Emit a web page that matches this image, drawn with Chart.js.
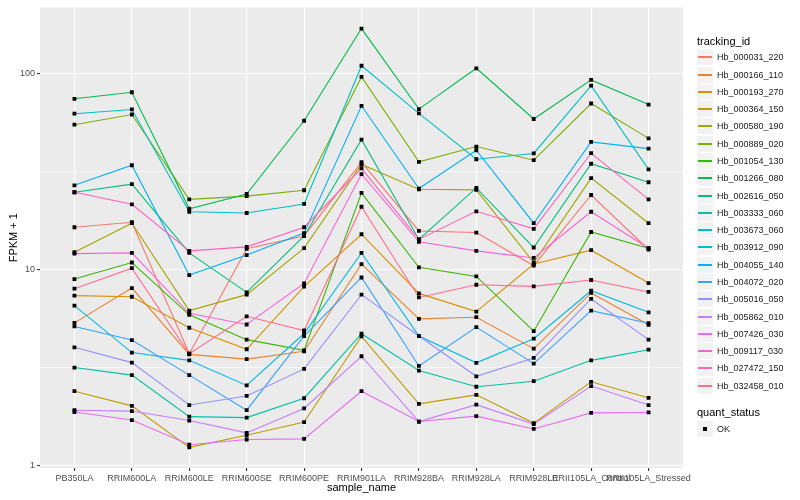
<!DOCTYPE html>
<html>
<head>
<meta charset="utf-8">
<script src="https://cdn.jsdelivr.net/npm/chart.js@4.4.1/dist/chart.umd.min.js"></script>
<style>
  body { margin: 0; background: #fff; font-family: "Liberation Sans", Arial, sans-serif; }
  #wrap { position: relative; width: 800px; height: 500px; }
  #wrap canvas { position: absolute; left: 0; top: 0; }
  .lg-title { position: absolute; left: 697px; font-size: 11px; color: #000; line-height: 14px; white-space: nowrap; }
  .lg-item { position: absolute; left: 697px; width: 100px; height: 16px; }
  .lg-key { position: absolute; left: 0; top: 0; width: 16px; height: 16px; background: #F2F2F2; }
  .lg-line { position: absolute; left: 1px; top: 7px; width: 14px; height: 2px; }
  .lg-dot { position: absolute; left: 6px; top: 6px; width: 4px; height: 4px; background: #000; }
  .lg-text { position: absolute; left: 20px; top: 0; line-height: 16px; font-size: 9px; color: #1a1a1a; white-space: nowrap; }
</style>
</head>
<body>
<div id="wrap">
  <canvas id="chart" width="800" height="500"></canvas>
</div>
<script>
// ─── データ ──────────────────────────────────────────
const categories = [
  'PB350LA', 'RRIM600LA', 'RRIM600LE', 'RRIM600SE', 'RRIM600PE', 'RRIM901LA',
  'RRIM928BA', 'RRIM928LA', 'RRIM928LE', 'RRII105LA_Control', 'RRII105LA_Stressed',
];

const trackingIds = [
  'Hb_000031_220', 'Hb_000166_110', 'Hb_000193_270', 'Hb_000364_150', 'Hb_000580_190',
  'Hb_000889_020', 'Hb_001054_130', 'Hb_001266_080', 'Hb_002616_050', 'Hb_003333_060',
  'Hb_003673_060', 'Hb_003912_090', 'Hb_004055_140', 'Hb_004072_020', 'Hb_005016_050',
  'Hb_005862_010', 'Hb_007426_030', 'Hb_009117_030', 'Hb_027472_150', 'Hb_032458_010',
];

// FPKM + 1, one value per sample
const hb_000031_220 = [16.5, 17.5, 3.73, 12.8, 14.9, 35.5, 15.8, 15.5, 10.5, 24.1, 12.7];
const hb_000166_110 = [5.36, 8.07, 3.70, 3.50, 3.84, 10.7, 5.62, 5.73, 3.96, 7.62, 5.24];
const hb_000193_270 = [7.38, 7.29, 5.06, 3.93, 8.20, 15.2, 7.58, 6.12, 10.7, 12.6, 8.56];
const hb_000364_150 = [2.40, 2.02, 1.24, 1.43, 1.67, 4.57, 2.07, 2.30, 1.65, 2.68, 2.22];
const hb_000580_190 = [12.3, 17.3, 6.19, 7.47, 12.9, 34.5, 25.8, 25.6, 10.9, 29.4, 17.3];
const hb_000889_020 = [55.1, 62.1, 22.9, 23.8, 25.5, 96.6, 35.6, 42.6, 36.3, 70.7, 46.9];
const hb_001054_130 = [8.97, 10.9, 5.89, 4.40, 3.88, 24.7, 10.3, 9.25, 4.86, 15.6, 12.9];
const hb_001266_080 = [74.7, 80.7, 20.5, 24.4, 57.7, 170.6, 66.2, 106.9, 58.9, 93.3, 69.8];
const hb_002616_050 = [24.9, 27.4, 12.2, 7.67, 14.9, 46.2, 14.3, 26.2, 13.0, 34.8, 28.0];
const hb_003333_060 = [3.17, 2.90, 1.78, 1.76, 2.21, 4.72, 3.06, 2.53, 2.70, 3.45, 3.91];
const hb_003673_060 = [62.7, 65.9, 19.8, 19.5, 21.7, 110.2, 62.9, 36.7, 39.3, 87.2, 32.6];
const hb_003912_090 = [6.57, 3.78, 3.45, 2.57, 4.73, 12.2, 4.59, 3.35, 4.45, 7.82, 6.07];
const hb_004055_140 = [27.0, 34.2, 9.40, 11.9, 15.4, 68.8, 26.0, 40.8, 17.3, 45.0, 41.6];
const hb_004072_020 = [5.14, 4.38, 2.90, 1.92, 4.59, 9.14, 3.23, 5.10, 3.32, 6.19, 5.34];
const hb_005016_050 = [4.02, 3.36, 2.04, 2.27, 3.12, 7.47, 4.59, 2.86, 3.55, 7.10, 4.40];
const hb_005862_010 = [1.92, 1.90, 1.70, 1.47, 1.96, 3.62, 1.68, 2.05, 1.63, 2.55, 2.04];
const hb_007426_030 = [1.88, 1.71, 1.28, 1.36, 1.37, 2.40, 1.68, 1.79, 1.54, 1.86, 1.87];
const hb_009117_030 = [12.1, 12.2, 6.00, 5.26, 8.52, 30.8, 13.9, 12.5, 11.5, 19.8, 12.9];
const hb_027472_150 = [24.9, 21.6, 12.5, 13.1, 16.5, 33.0, 14.3, 19.9, 16.2, 39.4, 22.9];
const hb_032458_010 = [8.01, 10.2, 3.73, 5.79, 4.90, 21.0, 7.23, 8.39, 8.23, 8.87, 7.71];

const seriesValues = [
  hb_000031_220, hb_000166_110, hb_000193_270, hb_000364_150, hb_000580_190,
  hb_000889_020, hb_001054_130, hb_001266_080, hb_002616_050, hb_003333_060,
  hb_003673_060, hb_003912_090, hb_004055_140, hb_004072_020, hb_005016_050,
  hb_005862_010, hb_007426_030, hb_009117_030, hb_027472_150, hb_032458_010,
];

const yTicks = [1, 3.1623, 10, 31.623, 100];
const yTickLabels = ['1', '', '10', '', '100'];
const quantStatus = ['OK'];

// ─── スタイル ────────────────────────────────────────
const HUE = [
  '#F8766D', '#EA8331', '#D89000', '#C09B00', '#A3A500',
  '#7CAE00', '#39B600', '#00BB4E', '#00BF7D', '#00C1A3',
  '#00BFC4', '#00BAE0', '#00B0F6', '#35A2FF', '#9590FF',
  '#C77CFF', '#E76BF3', '#FA62DB', '#FF62BC', '#FF6C91',
];
const FONT = 'Liberation Sans';

const panelBg = {
  id: 'panelBg',
  beforeDraw(chart) {
    const { ctx, chartArea: a } = chart;
    ctx.save();
    ctx.fillStyle = '#EBEBEB';
    ctx.fillRect(a.left, a.top, a.width, a.height);
    ctx.restore();
  },
};

const toXY = vals => vals.map((v, j) => ({ x: j, y: v }));

const lineSets = trackingIds.map((id, i) => ({
  label: id,
  data: toXY(seriesValues[i]),
  borderColor: HUE[i],
  borderWidth: 1.1,
  pointRadius: 0,
  tension: 0,
  order: 100 - i,
}));

const pointSets = trackingIds.map((id, i) => ({
  label: id + ' pt',
  data: toXY(seriesValues[i]),
  showLine: false,
  pointStyle: 'rect',
  pointRadius: 2.7,
  pointBorderWidth: 0,
  pointBackgroundColor: '#000',
  order: 0,
}));

new Chart(document.getElementById('chart').getContext('2d'), {
  type: 'line',
  data: { datasets: [...lineSets, ...pointSets] },
  options: {
    responsive: false,
    animation: false,
    layout: { padding: { top: 5, right: 117, bottom: 0, left: 0 } },
    plugins: { legend: { display: false }, tooltip: { enabled: false } },
    scales: {
      x: {
        type: 'linear', min: -0.6, max: 10.6,
        afterBuildTicks: s => { s.ticks = categories.map((_, i) => ({ value: i })); },
        afterFit: s => { s.height = 32; },
        ticks: {
          callback: (v, i) => categories[i],
          autoSkip: false, maxRotation: 0, minRotation: 0,
          color: '#4D4D4D', font: { family: FONT, size: 9 }, padding: 2,
        },
        grid: { color: '#FFFFFF', lineWidth: 1.1, tickColor: '#333333', tickLength: 3 },
        border: { display: false },
        title: {
          display: true, text: 'sample_name', color: '#000',
          font: { family: FONT, size: 11 }, padding: { top: 0, bottom: 5 },
        },
      },
      y: {
        type: 'logarithmic', min: 0.973, max: 218.8,
        afterBuildTicks: s => { s.ticks = yTicks.map(v => ({ value: v })); },
        afterFit: s => { s.width = 40; },
        ticks: {
          callback: (v, i) => yTickLabels[i],
          autoSkip: false,
          color: '#4D4D4D', font: { family: FONT, size: 9 }, padding: 2,
        },
        grid: {
          color: '#FFFFFF',
          lineWidth: c => (c.index % 2 === 0 ? 1.1 : 0.55),
          tickColor: c => (c.index % 2 === 0 ? '#333333' : 'rgba(0,0,0,0)'),
          tickLength: 3,
        },
        border: { display: false },
        title: {
          display: true, text: 'FPKM + 1', color: '#000',
          font: { family: FONT, size: 11 }, padding: { top: 7, bottom: 0 },
        },
      },
    },
  },
  plugins: [panelBg],
});

// ─── 凡例 (HTML) ─────────────────────────────────────
const wrap = document.getElementById('wrap');
function addDiv(cls, parent, css, text) {
  const d = document.createElement('div');
  d.className = cls;
  Object.assign(d.style, css || {});
  if (text != null) d.textContent = text;
  parent.appendChild(d);
  return d;
}

addDiv('lg-title', wrap, { top: '34px' }, 'tracking_id');
trackingIds.forEach((id, i) => {
  const item = addDiv('lg-item', wrap, { top: Math.round(49.3 + i * 17.28) + 'px' });
  const key = addDiv('lg-key', item);
  addDiv('lg-line', key, { background: HUE[i] });
  addDiv('lg-text', item, null, id);
});

addDiv('lg-title', wrap, { top: '405px' }, 'quant_status');
quantStatus.forEach((s, i) => {
  const item = addDiv('lg-item', wrap, { top: Math.round(421 + i * 17.28) + 'px' });
  const key = addDiv('lg-key', item);
  addDiv('lg-dot', key);
  addDiv('lg-text', item, null, s);
});
</script>
</body>
</html>
